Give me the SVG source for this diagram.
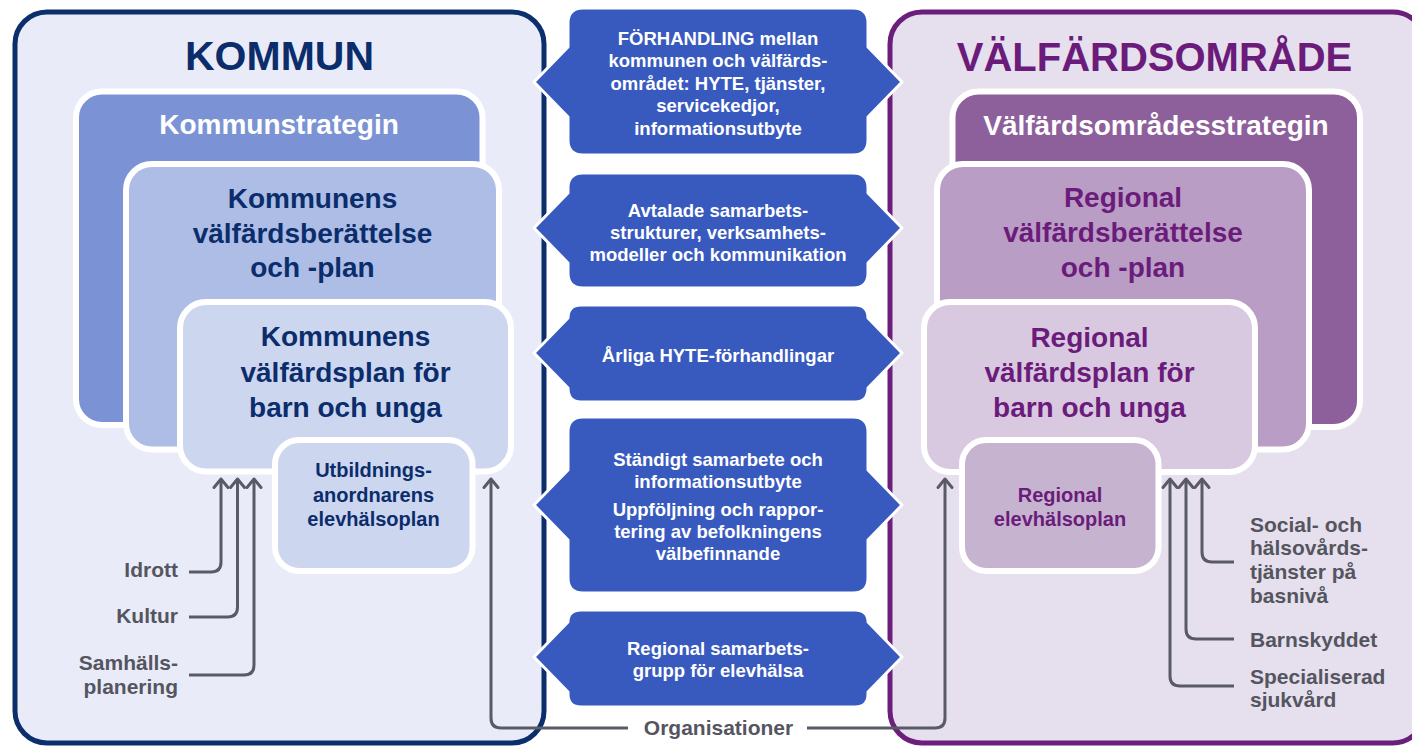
<svg xmlns="http://www.w3.org/2000/svg" width="1412" height="747" viewBox="0 0 1412 747">
<defs>
<style>
text { font-family: "Liberation Sans", Arial, sans-serif; font-weight: bold; text-anchor: middle; }
.title { font-size: 40px; }
.navy { fill: #0b2d6b; }
.purp { fill: #6b1c7b; }
.wht { fill: #ffffff; }
.big { font-size: 28px; }
.small { font-size: 20px; }
.grey { fill: #55555f; font-size: 21px; }
.hx { fill: #ffffff; font-size: 18.5px; }
.box { stroke: #ffffff; stroke-width: 6; }
.hex { fill: #385abf; stroke: #ffffff; stroke-width: 3; stroke-linejoin: round; }
.conn { fill: none; stroke: #5a5a66; stroke-width: 3; marker-end: url(#arr); }
</style>
<marker id="arr" markerWidth="20" markerHeight="20" refX="10" refY="10" orient="auto" markerUnits="userSpaceOnUse" viewBox="0 0 20 20" overflow="visible">
<path d="M1.5,3 L10,10 L1.5,17" fill="none" stroke="#5a5a66" stroke-width="3" stroke-linecap="round" stroke-linejoin="round"/>
</marker>
</defs>
<rect width="1412" height="747" fill="#ffffff"/>

<g id="kommun">
<rect x="15" y="12" width="529" height="731" rx="32" fill="#e9ecf8" stroke="#0b2f6b" stroke-width="5"/>
<text class="title navy" x="279.5" y="70" style="font-size:41px">KOMMUN</text>
</g>
<g id="kommunstrategin">
<rect class="box" x="76" y="91.5" width="406.5" height="333.5" rx="26" fill="#7b93d4"/>
<text class="big wht" x="279" y="134">Kommunstrategin</text>
</g>
<g id="kommunens-berattelse">
<rect class="box" x="126" y="164" width="373" height="285.5" rx="26" fill="#adbde6"/>
<text class="big navy" x="312.5" y="208">Kommunens<tspan x="312.5" y="243">välfärdsberättelse</tspan><tspan x="312.5" y="277">och -plan</tspan></text>
</g>
<g id="kommunens-barnplan">
<rect class="box" x="180" y="302" width="331" height="169.5" rx="26" fill="#cdd6ef"/>
<text class="big navy" x="345.5" y="346">Kommunens<tspan x="345.5" y="382">välfärdsplan för</tspan><tspan x="345.5" y="417">barn och unga</tspan></text>
</g>
<g id="utbildning-elevhalsoplan">
<rect class="box" x="275" y="440" width="197.5" height="131" rx="24" fill="#cdd6ef"/>
<text class="small navy" x="373.5" y="477">Utbildnings-<tspan x="373.5" y="502">anordnarens</tspan><tspan x="373.5" y="526">elevhälsoplan</tspan></text>
</g>

<g id="valfardsomrade">
<rect x="890" y="12" width="535" height="731" rx="32" fill="#e6e0ee" stroke="#6b1e7b" stroke-width="5"/>
<text class="title purp" x="1154.5" y="71">VÄLFÄRDSOMRÅDE</text>
</g>
<g id="valfardsomradesstrategin">
<rect class="box" x="952.5" y="91.5" width="407.5" height="335.5" rx="26" fill="#8d609b"/>
<text class="big wht" x="1156" y="135">Välfärdsområdesstrategin</text>
</g>
<g id="regional-berattelse">
<rect class="box" x="937" y="164" width="372" height="285.5" rx="26" fill="#b99dc5"/>
<text class="big purp" x="1123" y="207">Regional<tspan x="1123" y="242">välfärdsberättelse</tspan><tspan x="1123" y="277">och -plan</tspan></text>
</g>
<g id="regional-barnplan">
<rect class="box" x="924" y="302" width="331" height="170" rx="26" fill="#d8c9e1"/>
<text class="big purp" x="1089.5" y="347">Regional<tspan x="1089.5" y="382">välfärdsplan för</tspan><tspan x="1089.5" y="417">barn och unga</tspan></text>
</g>
<g id="regional-elevhalsoplan">
<rect class="box" x="962" y="440" width="196.5" height="131" rx="24" fill="#c6b3d0"/>
<text class="small purp" x="1060" y="502">Regional<tspan x="1060" y="526">elevhälsoplan</tspan></text>
</g>

<g id="forhandling">
<path class="hex" d="M583,8 H853 Q868,8 868,23 V47 L902,82 L868,117 V140 Q868,155 853,155 H583 Q568,155 568,140 V117 L534,82 L568,47 V23 Q568,8 583,8 Z"/>
<text class="hx" x="718" y="45">FÖRHANDLING mellan<tspan x="718" y="67">kommunen och välfärds-</tspan><tspan x="718" y="90">området: HYTE, tjänster,</tspan><tspan x="718" y="112">servicekedjor,</tspan><tspan x="718" y="135">informationsutbyte</tspan></text>
</g>
<g id="samarbetsstrukturer">
<path class="hex" d="M583,173 H853 Q868,173 868,188 V193 L902,228 L868,263 V273 Q868,288 853,288 H583 Q568,288 568,273 V263 L534,228 L568,193 V188 Q568,173 583,173 Z"/>
<text class="hx" x="718" y="217">Avtalade samarbets-<tspan x="718" y="239">strukturer, verksamhets-</tspan><tspan x="718" y="261">modeller och kommunikation</tspan></text>
</g>
<g id="hyte-forhandlingar">
<path class="hex" d="M581,305 H855 Q868,305 868,318 L902,353 L868,388 Q868,402 855,402 H581 Q568,402 568,388 L534,353 L568,318 Q568,305 581,305 Z"/>
<text class="hx" x="718" y="362">Årliga HYTE-förhandlingar</text>
</g>
<g id="samarbete-uppfoljning">
<path class="hex" d="M583,417 H853 Q868,417 868,432 V470 L902,505 L868,540 V578 Q868,593 853,593 H583 Q568,593 568,578 V540 L534,505 L568,470 V432 Q568,417 583,417 Z"/>
<text class="hx" x="718" y="466">Ständigt samarbete och<tspan x="718" y="488">informationsutbyte</tspan><tspan x="718" y="516">Uppföljning och rappor-</tspan><tspan x="718" y="538">tering av befolkningens</tspan><tspan x="718" y="560">välbefinnande</tspan></text>
</g>
<g id="samarbetsgrupp">
<path class="hex" d="M581,610 H855 Q868,610 868,622 L902,657 L868,692 V694 Q868,707 855,707 H581 Q568,707 568,694 V692 L534,657 L568,622 Q568,610 581,610 Z"/>
<text class="hx" x="718" y="655">Regional samarbets-<tspan x="718" y="677">grupp för elevhälsa</tspan></text>
</g>

<g id="labels">
<text class="grey" x="178" y="577" style="text-anchor:end">Idrott</text>
<text class="grey" x="178" y="623" style="text-anchor:end">Kultur</text>
<text class="grey" x="178" y="670" style="text-anchor:end">Samhälls-<tspan x="178" y="694">planering</tspan></text>
<text class="grey" x="1250" y="532" style="text-anchor:start">Social- och<tspan x="1250" y="555">hälsovårds-</tspan><tspan x="1250" y="579">tjänster på</tspan><tspan x="1250" y="603">basnivå</tspan></text>
<text class="grey" x="1250" y="647" style="text-anchor:start">Barnskyddet</text>
<text class="grey" x="1250" y="684" style="text-anchor:start">Specialiserad<tspan x="1250" y="707">sjukvård</tspan></text>
<text class="grey" x="718.5" y="735">Organisationer</text>
</g>

<g id="connectors">
<path class="conn" d="M189,572 H211 Q221,572 221,562 V479"/>
<path class="conn" d="M189,617 H227.5 Q237.5,617 237.5,607 V479"/>
<path class="conn" d="M189,675 H244 Q254,675 254,665 V479"/>
<path class="conn" d="M628,728 H501 Q491,728 491,718 V479"/>
<path class="conn" d="M807,728 H935 Q945,728 945,718 V479"/>
<path class="conn" d="M1234,562 H1212 Q1202,562 1202,552 V479"/>
<path class="conn" d="M1234,639 H1196 Q1186,639 1186,629 V479"/>
<path class="conn" d="M1234,686 H1180 Q1170,686 1170,676 V479"/>
</g>
</svg>
